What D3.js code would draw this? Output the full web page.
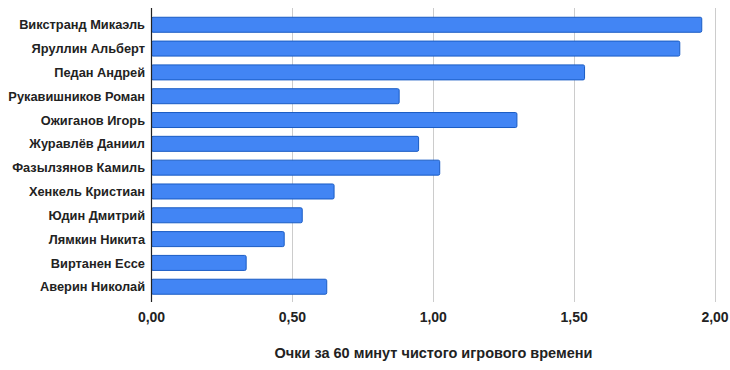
<!DOCTYPE html>
<html>
<head>
<meta charset="utf-8">
<script src="https://cdn.jsdelivr.net/npm/d3@7"></script>
<style>
  body { margin: 0; background: #fff; }
  text { font-family: "Liberation Sans", Arial, sans-serif; }
</style>
</head>
<body>
<div id="chart"></div>
<script>
const players = ["Викстранд Микаэль", "Яруллин Альберт", "Педан Андрей", "Рукавишников Роман",
  "Ожиганов Игорь", "Журавлёв Даниил", "Фазылзянов Камиль", "Хенкель Кристиан",
  "Юдин Дмитрий", "Лямкин Никита", "Виртанен Ессе", "Аверин Николай"];
const points = [1.953, 1.875, 1.537, 0.879, 1.297, 0.948, 1.023, 0.648, 0.535, 0.471, 0.336, 0.622];
const tickValues = [0, 0.5, 1, 1.5, 2];
const axisTitle = "Очки за 60 минут чистого игрового времени";

const width = 730, height = 370;
const plotLeft = 151.5, plotRight = 715;
const plotTop = 12.5, plotBottom = 299;

const svg = d3.select("#chart").append("svg")
  .attr("width", width)
  .attr("height", height);

const x = d3.scaleLinear().domain([0, 2]).range([plotLeft, plotRight]);
const y = d3.scaleBand().domain(players).range([plotTop, plotBottom]).paddingInner(0.37).paddingOuter(0.2);

// grid
svg.append("g").selectAll("line")
  .data(tickValues.slice(1))
  .join("line")
  .attr("x1", d => Math.round(x(d)) + 0.5)
  .attr("x2", d => Math.round(x(d)) + 0.5)
  .attr("y1", 8)
  .attr("y2", 302)
  .attr("stroke", "#cccccc")
  .attr("stroke-width", 1);

// bars
svg.append("g").selectAll("rect")
  .data(players)
  .join("rect")
  .attr("x", x(0))
  .attr("y", d => y(d))
  .attr("width", (d, i) => x(points[i]) - x(0))
  .attr("height", y.bandwidth())
  .attr("rx", 1.5)
  .attr("fill", "#4285f4")
  .attr("stroke", "#1a5cc4")
  .attr("stroke-width", 1);

// y axis line
svg.append("line")
  .attr("x1", plotLeft).attr("x2", plotLeft)
  .attr("y1", 8).attr("y2", 302)
  .attr("stroke", "#222")
  .attr("stroke-width", 1.2);

// category labels
svg.append("g").selectAll("text")
  .data(players)
  .join("text")
  .attr("x", 145)
  .attr("y", d => y(d) + y.bandwidth() / 2)
  .attr("dy", "0.36em")
  .attr("text-anchor", "end")
  .attr("font-size", 12.8)
  .attr("font-weight", "bold")
  .attr("fill", "#222")
  .text(d => d);

// x tick labels
const fmt = d => d3.format(".2f")(d).replace(".", ",");
svg.append("g").selectAll("text")
  .data(tickValues)
  .join("text")
  .attr("x", d => x(d))
  .attr("y", 322)
  .attr("text-anchor", "middle")
  .attr("font-size", 14)
  .attr("font-weight", "bold")
  .attr("fill", "#222")
  .text(fmt);

svg.append("text")
  .attr("x", 433.5)
  .attr("y", 358)
  .attr("text-anchor", "middle")
  .attr("font-size", 14.5)
  .attr("font-weight", "bold")
  .attr("fill", "#222")
  .text(axisTitle);
</script>
</body>
</html>
